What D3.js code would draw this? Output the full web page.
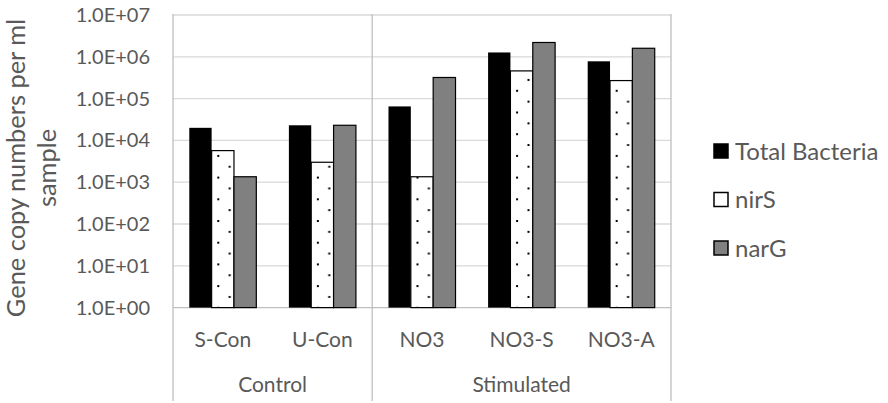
<!DOCTYPE html>
<html lang="en">
  <head>
    <meta charset="UTF-8" />
    <title>Gene copy numbers</title>
    <script src="https://cdn.jsdelivr.net/npm/d3@7/dist/d3.min.js"></script>
    <style>
      * {
        box-sizing: border-box;
        margin: 0;
        padding: 0;
      }
      body {
        background: #fff;
        width: 888px;
        height: 403px;
        overflow: hidden;
      }
      text {
        font-family: Lato, "Open Sans", sans-serif;
        fill: #595959;
      }
    </style>
  </head>
  <body>
    <svg id="chart" width="888" height="403"></svg>

    <script>
      // data
      const categories = ["S-Con", "U-Con", "NO3", "NO3-S", "NO3-A"];
      const groups = [
        { name: "Control", items: ["S-Con", "U-Con"] },
        { name: "Stimulated", items: ["NO3", "NO3-S", "NO3-A"] },
      ];
      const seriesNames = ["Total Bacteria", "nirS", "narG"];
      const totalBacteria = [2.0e4, 2.3e4, 6.5e4, 1.27e6, 7.8e5];
      const nirS = [5.7e3, 3.0e3, 1.35e3, 4.6e5, 2.7e5];
      const narG = [1.35e3, 2.3e4, 3.2e5, 2.2e6, 1.6e6];
      const yTicks = [1, 1e1, 1e2, 1e3, 1e4, 1e5, 1e6, 1e7];

      const seriesValues = [totalBacteria, nirS, narG];

      const svg = d3.select("#chart");

      // cadre du graphique
      const plotLeft = 173,
        plotRight = 671,
        plotTop = 15,
        plotBottom = 307.6,
        axisBottom = 401;

      // motif de points pour nirS
      const defs = svg.append("defs");
      const pat = defs
        .append("pattern")
        .attr("id", "dots")
        .attr("patternUnits", "userSpaceOnUse")
        .attr("width", 22.8)
        .attr("height", 21.7)
        .attr("x", 5.2)
        .attr("y", 3);
      pat.append("rect").attr("width", 22.8).attr("height", 21.7).attr("fill", "#fff");
      pat.append("rect").attr("x", 0).attr("y", 0).attr("width", 2).attr("height", 2).attr("fill", "#000");
      pat.append("rect").attr("x", 11.4).attr("y", 10.85).attr("width", 2).attr("height", 2).attr("fill", "#000");

      const fills = ["#000000", "url(#dots)", "#808080"];

      const y = d3.scaleLog().domain([1, 1e7]).range([plotBottom, plotTop]);
      const x = d3
        .scaleBand()
        .domain(categories)
        .range([plotLeft, plotRight])
        .paddingInner(0.327)
        .paddingOuter(0.1635);
      const x1 = d3
        .scaleBand()
        .domain(seriesNames)
        .range([0, x.bandwidth()]);

      const expFmt = (d) => {
        const e = Math.round(Math.log10(d));
        return "1.0E+" + String(e).padStart(2, "0");
      };

      // gridlines
      svg
        .append("g")
        .selectAll("line")
        .data(yTicks)
        .join("line")
        .attr("x1", plotLeft)
        .attr("x2", plotRight)
        .attr("y1", (d) => y(d))
        .attr("y2", (d) => y(d))
        .attr("stroke", (d) => (d === 1 ? "#bfbfbf" : "#d9d9d9"))
        .attr("stroke-width", 1.3);

      // y tick labels
      svg
        .append("g")
        .selectAll("text")
        .data(yTicks)
        .join("text")
        .attr("x", 150)
        .attr("y", (d) => y(d))
        .attr("dy", "0.35em")
        .attr("text-anchor", "end")
        .style("font-size", "20px")
        .text(expFmt);

      // bars
      const rows = categories.map((c, i) => ({
        cat: c,
        vals: seriesNames.map((s, j) => ({ s: s, j: j, v: seriesValues[j][i] })),
      }));

      svg
        .append("g")
        .selectAll("g")
        .data(rows)
        .join("g")
        .attr("transform", (d) => `translate(${x(d.cat)},0)`)
        .selectAll("rect")
        .data((d) => d.vals)
        .join("rect")
        .attr("x", (d) => x1(d.s))
        .attr("y", (d) => y(d.v))
        .attr("width", x1.bandwidth())
        .attr("height", (d) => plotBottom - y(d.v))
        .attr("fill", (d) => fills[d.j])
        .attr("stroke", "#000")
        .attr("stroke-width", (d) => (d.j === 0 ? 0 : 1.2));

      // vertical axis / group separator lines
      const half = (x.step() - x.bandwidth()) / 2;
      const seps = [plotLeft];
      groups.forEach((g) => {
        const lastCat = g.items[g.items.length - 1];
        seps.push(x(lastCat) + x.bandwidth() + half);
      });
      svg
        .append("g")
        .selectAll("line")
        .data(seps)
        .join("line")
        .attr("x1", (d) => d)
        .attr("x2", (d) => d)
        .attr("y1", plotTop - 1)
        .attr("y2", axisBottom)
        .attr("stroke", "#bfbfbf")
        .attr("stroke-width", 1.3);

      // category labels
      svg
        .append("g")
        .selectAll("text")
        .data(categories)
        .join("text")
        .attr("x", (d) => x(d) + x.bandwidth() / 2)
        .attr("y", 347)
        .attr("text-anchor", "middle")
        .style("font-size", "21px")
        .text((d) => d);

      // group labels
      svg
        .append("g")
        .selectAll("text")
        .data(groups)
        .join("text")
        .attr("x", (g) => {
          const a = x(g.items[0]) - half;
          const b = x(g.items[g.items.length - 1]) + x.bandwidth() + half;
          return (a + b) / 2;
        })
        .attr("y", 392)
        .attr("text-anchor", "middle")
        .style("font-size", "21px")
        .text((g) => g.name);

      // y axis title
      const title = svg
        .append("text")
        .attr("transform", "translate(0,168) rotate(-90)")
        .attr("text-anchor", "middle")
        .style("font-size", "25.4px");
      title.append("tspan").attr("x", 0).attr("y", 25).text("Gene copy numbers per ml");
      title.append("tspan").attr("x", 0).attr("y", 56).text("sample");

      // legend
      const legendY = [151, 199.5, 248];
      const legend = svg
        .append("g")
        .selectAll("g")
        .data(seriesNames)
        .join("g")
        .attr("transform", (d, i) => `translate(714,${legendY[i]})`);
      legend
        .append("rect")
        .attr("x", 0)
        .attr("y", -7)
        .attr("width", 14)
        .attr("height", 14)
        .attr("fill", (d, i) => (i === 1 ? "#fff" : fills[i]))
        .attr("stroke", "#000")
        .attr("stroke-width", 1.5);
      legend
        .append("text")
        .attr("x", 21)
        .attr("y", 0)
        .attr("dy", "0.36em")
        .style("font-size", "24px")
        .text((d) => d);
    </script>
  </body>
</html>
